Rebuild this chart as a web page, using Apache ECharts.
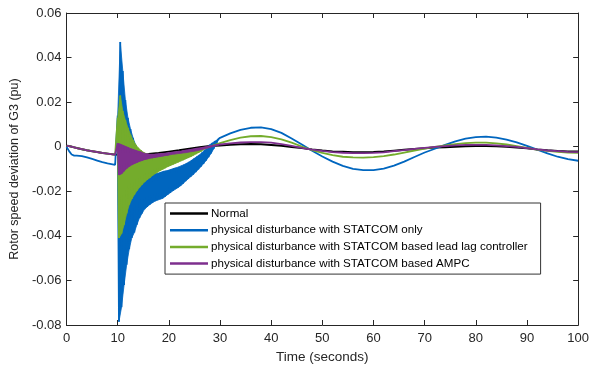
<!DOCTYPE html>
<html>
<head>
<meta charset="utf-8">
<script src="https://cdn.jsdelivr.net/npm/echarts@6/dist/echarts.min.js"></script>
<style>html,body{margin:0;padding:0;background:#fff}#c{width:592px;height:369px}</style>
</head>
<body>
<div id="c"></div>
<script>
const seriesNames = ["Normal", "physical disturbance with STATCOM only", "physical disturbance with STATCOM based lead lag controller", "physical disturbance with STATCOM based AMPC"];
const xTicks = [0, 10, 20, 30, 40, 50, 60, 70, 80, 90, 100];
const yTicks = [-0.08, -0.06, -0.04, -0.02, 0, 0.02, 0.04, 0.06];

// time samples (s)
const tPre = [0, 0.5, 1, 1.5, 2, 3, 4, 5, 6, 7, 8, 9, 9.5];
const tMid = [10, 12, 14, 16, 18, 20, 22, 24, 26, 28];
const tBurst = [10, 10.25, 10.5, 10.75, 11, 11.25, 11.5, 11.75, 12, 12.25, 12.5, 12.75, 13, 13.25, 13.5, 13.75,
  14, 14.25, 14.5, 14.75, 15, 15.25, 15.5, 15.75, 16, 16.25, 16.5, 16.75, 17, 17.25, 17.5, 17.75,
  18, 18.25, 18.5, 18.75, 19, 19.25, 19.5, 19.75, 20, 20.25, 20.5, 20.75, 21, 21.25, 21.5, 21.75,
  22, 22.25, 22.5, 22.75, 23, 23.25, 23.5, 23.75, 24, 24.25, 24.5, 24.75, 25, 25.25, 25.5, 25.75,
  26, 26.25, 26.5, 26.75, 27, 27.25, 27.5, 27.75, 28, 28.25, 28.5, 28.75, 29, 29.25, 29.5, 29.75];
const tPost = [30, 32, 34, 36, 38, 40, 42, 44, 46, 48, 50, 52, 54, 56, 58, 60, 62, 64, 66, 68,
  70, 72, 74, 76, 78, 80, 82, 84, 86, 88, 90, 92, 94, 96, 98, 100];

// Normal
const normalPre = [0.0004, 0.0003, 0.0, -0.0003, -0.0006, -0.0011, -0.0016, -0.002, -0.0024, -0.0028, -0.0031, -0.0034, -0.0035];
const normalMid = [-0.0036, -0.0038, -0.0037, -0.0033, -0.0028, -0.0022, -0.0016, -0.0009, -0.0002, 0.0003];
const normalPost = [0.0005, 0.0009, 0.0011, 0.0012, 0.0011, 0.0008, 0.0004, -0.0001, -0.0006, -0.0012, -0.0017, -0.0021,
  -0.0023, -0.0025, -0.0025, -0.0024, -0.0022, -0.0018, -0.0014, -0.001, -0.0007, -0.0004, -0.0002, 0.0,
  0.0002, 0.0003, 0.0003, 0.0002, 0.0, -0.0003, -0.0007, -0.0012, -0.0016, -0.0019, -0.0021, -0.0022];

// STATCOM only
const onlyPre = [0, -0.002, -0.0035, -0.004, -0.004, -0.0042, -0.0048, -0.0055, -0.0062, -0.0069, -0.0075, -0.0079, -0.0081];
const onlyBurst = [0.014, -0.0785, 0.047, -0.072, 0.034, -0.062, 0.021, -0.053, 0.013, -0.046, 0.008, -0.041, 0.004, -0.0385, 0.0008, -0.035,
  -0.002, -0.032, -0.005, -0.030, -0.009, -0.028, -0.0105, -0.027, -0.0115, -0.026, -0.012, -0.0252, -0.0122, -0.0245, -0.012, -0.024,
  -0.0118, -0.0236, -0.0114, -0.0232, -0.011, -0.0224, -0.0108, -0.0215, -0.0105, -0.0207, -0.0101, -0.0199, -0.0097, -0.0191, -0.0094, -0.0184,
  -0.009, -0.0176, -0.0085, -0.0166, -0.008, -0.0155, -0.0074, -0.0145, -0.0068, -0.0135, -0.006, -0.0125, -0.0052, -0.0114, -0.0044, -0.0102,
  -0.0036, -0.009, -0.0026, -0.0077, -0.0015, -0.0063, -0.0003, -0.0047, 0.0009, -0.003, 0.0017, -0.001, 0.0025, 0.0012, 0.003, 0.0033];
const onlyPost = [0.004, 0.006, 0.0076, 0.0085, 0.0087, 0.0079, 0.0062, 0.0037, 0.001, -0.0018, -0.0044, -0.0067,
  -0.0086, -0.0099, -0.0105, -0.0105, -0.0098, -0.0085, -0.0067, -0.0046, -0.0026, -0.0009, 0.0008, 0.0024,
  0.0036, 0.0043, 0.0045, 0.0041, 0.0032, 0.0019, 0.0004, -0.0013, -0.003, -0.0045, -0.0056, -0.0063];

// STATCOM based lead lag controller
const leadPre = [0.0004, 0.0003, 0.0, -0.0003, -0.0006, -0.0011, -0.0016, -0.002, -0.0024, -0.0028, -0.0031, -0.0034, -0.0035];
const leadBurst = [0.013, -0.041, 0.023, -0.039, 0.016, -0.035, 0.012, -0.030, 0.0085, -0.026, 0.0055, -0.0235, 0.003, -0.0215, 0.001, -0.0198,
  -0.0005, -0.0183, -0.0015, -0.017, -0.0024, -0.0158, -0.003, -0.0148, -0.0034, -0.014, -0.0036, -0.013, -0.0036, -0.0122, -0.0035, -0.0115,
  -0.0034, -0.0108, -0.0033, -0.0102, -0.0032, -0.0096, -0.0031, -0.009, -0.003, -0.0085, -0.0029, -0.008, -0.0028, -0.0075, -0.0026, -0.007,
  -0.0025, -0.0065, -0.0023, -0.006, -0.0022, -0.0055, -0.002, -0.005, -0.0018, -0.0045, -0.0016, -0.0039, -0.0014, -0.0033, -0.0012, -0.0027,
  -0.001, -0.0021, -0.0008, -0.0014, -0.0006, -0.0008, -0.0003, -0.0002, 0.0, 0.0003, 0.0004, 0.0008, 0.0008, 0.0011, 0.0012, 0.0014];
const leadPost = [0.0016, 0.003, 0.0041, 0.0047, 0.0048, 0.0043, 0.0033, 0.0018, 0.0001, -0.0015, -0.0028, -0.0038,
  -0.0045, -0.0048, -0.0049, -0.0047, -0.0042, -0.0035, -0.0026, -0.0017, -0.0008, -0.0001, 0.0006, 0.0012,
  0.0016, 0.0018, 0.0018, 0.0015, 0.001, 0.0003, -0.0005, -0.0013, -0.0019, -0.0023, -0.0026, -0.0027];

// STATCOM based AMPC
const ampcPre = [0.0004, 0.0003, 0.0, -0.0003, -0.0006, -0.0011, -0.0016, -0.002, -0.0024, -0.0028, -0.0031, -0.0034, -0.0035];
const ampcBurst = [0.0015, -0.0127, 0.0012, -0.0122, 0.0007, -0.011, 0.0002, -0.0098, -0.0003, -0.0089, -0.0008, -0.0082, -0.0012, -0.0076, -0.0016, -0.0071,
  -0.002, -0.0066, -0.0023, -0.0062, -0.0028, -0.0058, -0.0031, -0.0055, -0.0033, -0.0052, -0.0034, -0.005, -0.0034, -0.0048, -0.0033, -0.0046,
  -0.0032, -0.0044, -0.0031, -0.0042, -0.003, -0.004, -0.0029, -0.0038, -0.0028, -0.0036, -0.0027, -0.0034, -0.0025, -0.0033, -0.0024, -0.0031,
  -0.0022, -0.003, -0.0021, -0.0028, -0.0019, -0.0027, -0.0017, -0.0025, -0.0015, -0.0023, -0.0013, -0.0021, -0.0011, -0.0019, -0.0009, -0.0017,
  -0.0007, -0.0014, -0.0005, -0.0011, -0.0003, -0.0008, -0.0001, -0.0005, 0.0002, -0.0002, 0.0004, 0.0002, 0.0006, 0.0005, 0.0008, 0.0008];
const ampcPost = [0.001, 0.0015, 0.0019, 0.0021, 0.0021, 0.0018, 0.0012, 0.0004, -0.0005, -0.0013, -0.0019, -0.0024,
  -0.0027, -0.0029, -0.0029, -0.0028, -0.0025, -0.002, -0.0015, -0.001, -0.0005, -0.0001, 0.0003, 0.0006,
  0.0008, 0.0008, 0.0008, 0.0006, 0.0003, -0.0001, -0.0006, -0.0012, -0.0017, -0.002, -0.0023, -0.0024];

const colors = ['#000000', '#0066BF', '#74AC2C', '#7E2F8E'];

function pairs(ts, vs) {
  if (ts.length !== vs.length) console.error('length mismatch', ts.length, vs.length);
  return vs.map((v, i) => [ts[i], v]);
}
// envelope polygon of an oscillating burst: peaks (even samples) forward, troughs (odd samples) back
function bandPolygon(ts, vs) {
  const up = [], lo = [];
  vs.forEach((v, i) => { (i % 2 === 0 ? up : lo).push([ts[i], v]); });
  return up.concat(lo.reverse());
}
const dataNormal = pairs(tPre, normalPre).concat(pairs(tMid, normalMid), pairs(tPost, normalPost));
const dataOnly = pairs(tPre, onlyPre).concat(pairs(tBurst, onlyBurst), pairs(tPost, onlyPost));
const dataLead = pairs(tPre, leadPre).concat(pairs(tBurst, leadBurst), pairs(tPost, leadPost));
const dataAmpc = pairs(tPre, ampcPre).concat(pairs(tBurst, ampcBurst), pairs(tPost, ampcPost));
const allData = [dataNormal, dataOnly, dataLead, dataAmpc];
const bands = [null, bandPolygon(tBurst, onlyBurst), bandPolygon(tBurst, leadBurst), bandPolygon(tBurst, ampcBurst)];

const FONT = 'Liberation Sans, Arial, sans-serif';
const axisCol = '#262626';
const chart = echarts.init(document.getElementById('c'), null, {renderer: 'canvas'});

const commonAxis = {
  axisLine: {show: true, onZero: false, lineStyle: {color: axisCol, width: 1}},
  axisTick: {show: true, inside: true, length: 5, lineStyle: {color: axisCol}},
  splitLine: {show: false}
};

const series = [];
seriesNames.forEach((name, k) => {
  if (bands[k]) {
    const poly = bands[k];
    series.push({
      name: 'band' + k,
      type: 'custom',
      data: [[0, 0]],
      clip: true,
      silent: true,
      z: 2 + k,
      renderItem: function (params, api) {
        return {
          type: 'polygon',
          shape: {points: poly.map(p => api.coord(p))},
          style: {fill: colors[k], stroke: colors[k], lineWidth: 0.8}
        };
      }
    });
  }
  series.push({
    name: name,
    type: 'line',
    data: allData[k],
    showSymbol: false,
    symbol: 'none',
    sampling: null,
    smooth: false,
    lineStyle: {width: k === 0 ? 2 : 1.8, color: colors[k]},
    itemStyle: {color: colors[k]},
    z: 2 + k
  });
});

chart.setOption({
  animation: false,
  color: colors,
  grid: {left: 66, right: 9, top: 13, bottom: 44, containLabel: false},
  legend: {
    show: true,
    orient: 'vertical',
    left: 165, top: 203,
    data: seriesNames,
    icon: 'rect',
    itemWidth: 38, itemHeight: 2.5,
    itemGap: 3.7,
    padding: [4, 13, 4, 5],
    borderColor: '#333', borderWidth: 1,
    backgroundColor: '#fff',
    selectedMode: false,
    textStyle: {fontFamily: FONT, fontSize: 11.6, color: '#000', lineHeight: 13, padding: [0, 0, 0, -2]}
  },
  xAxis: [
    Object.assign({}, commonAxis, {
      type: 'value', min: xTicks[0], max: xTicks[xTicks.length - 1], interval: 10, position: 'bottom',
      name: 'Time (seconds)', nameLocation: 'middle', nameGap: 20,
      nameTextStyle: {fontFamily: FONT, fontSize: 13.5, color: axisCol},
      axisLabel: {show: true, margin: 7, fontFamily: FONT, fontSize: 13, color: axisCol}
    }),
    Object.assign({}, commonAxis, {
      type: 'value', min: xTicks[0], max: xTicks[xTicks.length - 1], interval: 10, position: 'top',
      axisLabel: {show: false}
    })
  ],
  yAxis: [
    Object.assign({}, commonAxis, {
      type: 'value', min: yTicks[0], max: yTicks[yTicks.length - 1], interval: 0.02, position: 'left',
      name: 'Rotor speed deviation of G3 (pu)', nameLocation: 'middle', nameGap: 36,
      nameTextStyle: {fontFamily: FONT, fontSize: 12.5, color: axisCol},
      axisLabel: {show: true, margin: 5, fontFamily: FONT, fontSize: 13, color: axisCol,
        formatter: v => String(Math.round(v * 100) / 100)}
    }),
    Object.assign({}, commonAxis, {
      type: 'value', min: yTicks[0], max: yTicks[yTicks.length - 1], interval: 0.02, position: 'right',
      axisLabel: {show: false}
    })
  ],
  series: series
});
</script>
</body>
</html>
